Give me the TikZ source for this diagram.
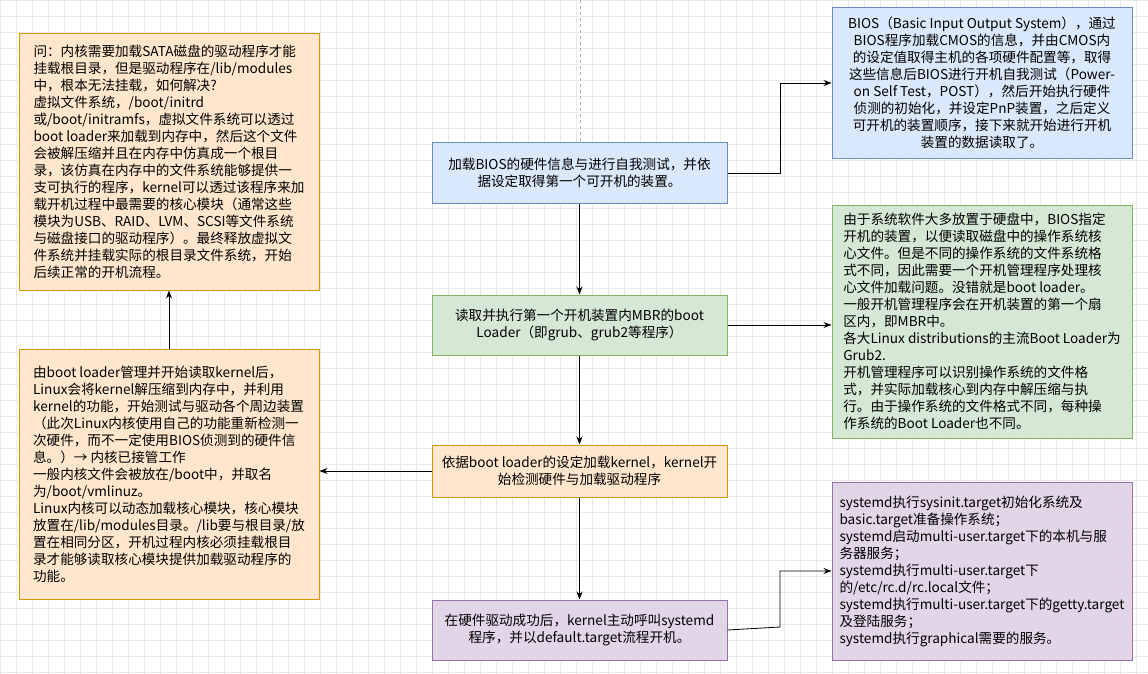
\documentclass[tikz,border=0pt]{standalone}
\usepackage{fontspec}
\setmainfont{Noto Sans CJK SC}
\usetikzlibrary{arrows.meta}
\definecolor{oF}{HTML}{FFE6CC}\definecolor{oS}{HTML}{D79B00}
\definecolor{bF}{HTML}{DAE8FC}\definecolor{bS}{HTML}{6C8EBF}
\definecolor{gF}{HTML}{D5E8D4}\definecolor{gS}{HTML}{82B366}
\definecolor{pF}{HTML}{E1D5E7}\definecolor{pS}{HTML}{9673A6}
\definecolor{gridc}{HTML}{EAEAEA}
\begin{document}
\begin{tikzpicture}[x=1pt,y=-1pt,
  box/.style={draw=#1S,fill=#1F,line width=1pt,inner sep=2pt,font=\fontsize{13.6}{17}\selectfont},
  arr/.style={-{Stealth[length=8pt,width=6pt]},line width=0.8pt}]
\useasboundingbox (0,0) rectangle (1148,674);
\fill[white] (0,0) rectangle (1148,674);
\foreach \i in {0,16,...,1148} \draw[gridc,line width=0.5pt] (\i,0) -- (\i,674);
\foreach \j in {0,16,...,674} \draw[gridc,line width=0.5pt] (0,\j) -- (1148,\j);
\draw[gray!60,dashed,line width=0.5pt] (580,0) -- (580,143);
% center
\node[box=b,minimum width=295pt,minimum height=60pt,align=center] (c1) at (579.5,173) {加载BIOS的硬件信息与进行自我测试，并依\\据设定取得第一个可开机的装置。};
\node[box=g,minimum width=295pt,minimum height=60pt,align=center] (c2) at (579.5,325) {读取并执行第一个开机装置内MBR的boot\\Loader（即grub、grub2等程序）};
\node[box=o,minimum width=295pt,minimum height=52pt,align=center] (c3) at (579.5,471) {依据boot loader的设定加载kernel，kernel开\\始检测硬件与加载驱动程序};
\node[box=p,minimum width=295pt,minimum height=60pt,align=center] (c4) at (579.5,630) {在硬件驱动成功后，kernel主动呼叫systemd\\程序，并以default.target流程开机。};
% left
\node[box=o,minimum width=300pt,minimum height=256pt,align=left] (l1) at (169,162) {问：内核需要加载SATA磁盘的驱动程序才能\\挂载根目录，但是驱动程序在/lib/modules\\中，根本无法挂载，如何解决?\\虚拟文件系统，/boot/initrd\\或/boot/initramfs，虚拟文件系统可以透过\\boot loader来加载到内存中，然后这个文件\\会被解压缩并且在内存中仿真成一个根目\\录，该仿真在内存中的文件系统能够提供一\\支可执行的程序，kernel可以透过该程序来加\\载开机过程中最需要的核心模块（通常这些\\模块为USB、RAID、LVM、SCSI等文件系统\\与磁盘接口的驱动程序）。最终释放虚拟文\\件系统并挂载实际的根目录文件系统，开始\\后续正常的开机流程。};
\node[box=o,minimum width=300pt,minimum height=250pt,align=left] (l2) at (169,474) {由boot loader管理并开始读取kernel后，\\Linux会将kernel解压缩到内存中，并利用\\kernel的功能，开始测试与驱动各个周边装置\\（此次Linux内核使用自己的功能重新检测一\\次硬件，而不一定使用BIOS侦测到的硬件信\\息。）→ 内核已接管工作\\一般内核文件会被放在/boot中，并取名\\为/boot/vmlinuz。\\Linux内核可以动态加载核心模块，核心模块\\放置在/lib/modules目录。/lib要与根目录/放\\置在相同分区，开机过程内核必须挂载根目\\录才能够读取核心模块提供加载驱动程序的\\功能。};
% right
\node[box=b,minimum width=300pt,minimum height=150pt,align=center] (r1) at (982,83) {BIOS（Basic Input Output System），通过\\BIOS程序加载CMOS的信息，并由CMOS内\\的设定值取得主机的各项硬件配置等，取得\\这些信息后BIOS进行开机自我测试（Power-\\on Self Test，POST），然后开始执行硬件\\侦测的初始化，并设定PnP装置，之后定义\\可开机的装置顺序，接下来就开始进行开机\\装置的数据读取了。};
\node[box=g,minimum width=300pt,minimum height=233pt,align=left] (r2) at (982,321.5) {由于系统软件大多放置于硬盘中，BIOS指定\\开机的装置，以便读取磁盘中的操作系统核\\心文件。但是不同的操作系统的文件系统格\\式不同，因此需要一个开机管理程序处理核\\心文件加载问题。没错就是boot loader。\\一般开机管理程序会在开机装置的第一个扇\\区内，即MBR中。\\各大Linux distributions的主流Boot Loader为\\Grub2.\\开机管理程序可以识别操作系统的文件格\\式，并实际加载核心到内存中解压缩与执\\行。由于操作系统的文件格式不同，每种操\\作系统的Boot Loader也不同。};
\node[box=p,minimum width=300pt,minimum height=178pt,align=left] (r3) at (982,571) {systemd执行sysinit.target初始化系统及\\basic.target准备操作系统；\\systemd启动multi-user.target下的本机与服\\务器服务；\\systemd执行multi-user.target下\\的/etc/rc.d/rc.local文件；\\systemd执行multi-user.target下的getty.target\\及登陆服务；\\systemd执行graphical需要的服务。};
% arrows
\draw[arr] (c1.east) -- (780,173) |- (r1.west);
\draw[arr] (c1.south) -- (c2.north);
\draw[arr] (c2.east) -- (r2.west |- c2.east);
\draw[arr] (c2.south) -- (c3.north);
\draw[arr] (c3.west) -- (l2.east |- c3.west);
\draw[arr] (l2.north) -- (l1.south);
\draw[arr] (c3.south) -- (c4.north);
\draw[arr] (c4.east) -- (780,627) |- (r3.west);
\end{tikzpicture}
\end{document}
